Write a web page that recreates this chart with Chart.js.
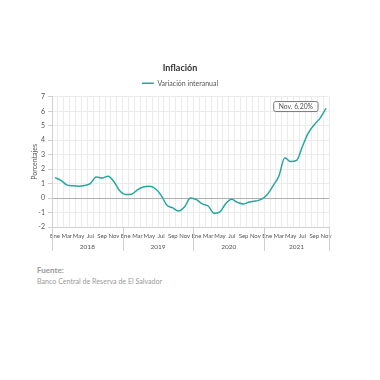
<!DOCTYPE html>
<html>
<head>
<meta charset="utf-8">
<script src="https://cdn.jsdelivr.net/npm/chart.js@4/dist/chart.umd.min.js"></script>
<style>
  html, body { margin: 0; padding: 0; background: #fff; }
  #wrap { position: relative; width: 380px; height: 380px; }
  #c { position: absolute; left: 0; top: 0; }
  #src { position: absolute; left: 37px; top: 265px; font-family: Lato, "Open Sans", sans-serif; color: #9a9a9a; }
  #src .h { font-weight: bold; font-size: 8px; line-height: 11px; }
  #src .t { font-size: 7.1px; line-height: 11px; }
</style>
</head>
<body>
<div id="wrap">
  <canvas id="c" width="380" height="260"></canvas>
  <div id="src"><div class="h">Fuente:</div><div class="t">Banco Central de Reserva de El Salvador</div></div>
</div>
<script>
const years = ["2018", "2019", "2020", "2021"];
const monthNames = ["Ene","Feb","Mar","Abr","May","Jun","Jul","Ago","Sep","Oct","Nov","Dic"];
const monthsPerYear = [12, 12, 12, 11];
const inflation2018 = [1.41, 1.23, 0.91, 0.85, 0.82, 0.87, 1.00, 1.46, 1.39, 1.50, 1.14, 0.50];
const inflation2019 = [0.25, 0.27, 0.57, 0.77, 0.82, 0.66, 0.20, -0.50, -0.68, -0.90, -0.60, 0.00];
const inflation2020 = [-0.11, -0.40, -0.55, -1.05, -0.95, -0.37, -0.09, -0.30, -0.41, -0.27, -0.21, -0.09];
const inflation2021 = [0.23, 0.84, 1.53, 2.79, 2.52, 2.60, 3.58, 4.50, 5.07, 5.53, 6.20];
const yTicks = [-2, -1, 0, 1, 2, 3, 4, 5, 6, 7];
const seriesName = "Variación interanual";

const labels = [];
years.forEach((y, yi) => { for (let m = 0; m < monthsPerYear[yi]; m++) labels.push(monthNames[m]); });
const values = [].concat(inflation2018, inflation2019, inflation2020, inflation2021);

const FONT = 'Lato, "Open Sans", sans-serif';
const TEAL = '#25a8a0';

const yearPlugin = {
  id: 'years',
  afterDraw(chart) {
    const ctx = chart.ctx, xs = chart.scales.x, area = chart.chartArea;
    ctx.save();
    ctx.strokeStyle = '#cfcfcf';
    ctx.lineWidth = 1;
    let start = 0;
    const bounds = [area.left];
    ctx.fillStyle = '#555';
    ctx.font = '6.5px ' + FONT;
    ctx.textAlign = 'center';
    ctx.textBaseline = 'middle';
    years.forEach((y, yi) => {
      const end = start + monthsPerYear[yi] - 1;
      const cx = (xs.getPixelForValue(start) + xs.getPixelForValue(end)) / 2;
      ctx.fillText(y, cx, area.bottom + 19.5);
      const b = yi < years.length - 1 ? (xs.getPixelForValue(end) + xs.getPixelForValue(end + 1)) / 2 : area.right;
      bounds.push(b);
      start = end + 1;
    });
    bounds.forEach(b => {
      ctx.beginPath();
      ctx.moveTo(Math.round(b) + 0.5, area.bottom);
      ctx.lineTo(Math.round(b) + 0.5, area.bottom + 24);
      ctx.stroke();
    });
    // annotation of last value
    const ys = chart.scales.y;
    const li = values.length - 1;
    const txt = labels[li] + '. ' + values[li].toFixed(2) + '%';
    ctx.font = '6.8px ' + FONT;
    const w = ctx.measureText(txt).width + 10, h = 10;
    const xr = xs.getPixelForValue(li) - 8.5;
    const yc = ys.getPixelForValue(values[li]) - 2.3;
    const x0 = xr - w, y0 = yc - h / 2;
    ctx.fillStyle = '#fff';
    ctx.strokeStyle = '#777';
    ctx.lineWidth = 1;
    ctx.beginPath();
    ctx.roundRect(x0 + 0.5, y0 + 0.5, w, h, 2);
    ctx.fill();
    ctx.stroke();
    ctx.fillStyle = '#555';
    ctx.fillText(txt, x0 + w / 2 + 0.5, yc + 0.8);
    ctx.restore();
  }
};

new Chart(document.getElementById('c'), {
  type: 'line',
  data: {
    labels: labels,
    datasets: [{
      label: seriesName,
      data: values,
      borderColor: TEAL,
      backgroundColor: TEAL,
      borderWidth: 1.5,
      pointRadius: 0,
      cubicInterpolationMode: 'monotone',
      fill: false
    }]
  },
  options: {
    responsive: false,
    animation: false,
    layout: { padding: { left: 31, right: 51, top: 0, bottom: 3 } },
    plugins: {
      title: {
        display: true,
        text: 'Inflación',
        color: '#333',
        font: { family: FONT, size: 9, weight: 'bold' },
        padding: { top: 63, bottom: 2 }
      },
      legend: {
        display: true,
        labels: {
          color: '#555',
          font: { family: FONT, size: 7 },
          usePointStyle: true,
          pointStyle: 'line',
          pointStyleWidth: 12,
          boxHeight: 7,
          padding: 4
        }
      },
      tooltip: { enabled: false }
    },
    scales: {
      x: {
        offset: true,
        grid: { offset: true, color: '#ebebeb', drawTicks: false },
        border: { display: true, color: '#d0d0d0' },
        ticks: {
          autoSkip: false,
          maxRotation: 0,
          minRotation: 0,
          padding: 5,
          color: '#555',
          font: { family: FONT, size: 6 },
          callback: function(v, i) { return i % 2 === 0 ? labels[i] : ''; }
        },
        afterFit(scale) { scale.height = 30; }
      },
      y: {
        min: -2,
        max: 7,
        afterBuildTicks(scale) { scale.ticks = yTicks.map(v => ({ value: v })); },
        grid: {
          color: ctx => ctx.tick && ctx.tick.value === 0 ? '#b0b0b0' : '#ebebeb',
          tickLength: 4,
          tickColor: '#d0d0d0'
        },
        border: { display: true, color: '#d0d0d0' },
        ticks: { color: '#555', font: { family: FONT, size: 7 }, padding: 3 },
        title: {
          display: true,
          text: 'Porcentajes',
          color: '#555',
          font: { family: FONT, size: 7 },
          padding: { top: 0, bottom: 2 }
        },
        afterFit(scale) { scale.width = 21; }
      }
    }
  },
  plugins: [yearPlugin]
});
</script>
</body>
</html>
